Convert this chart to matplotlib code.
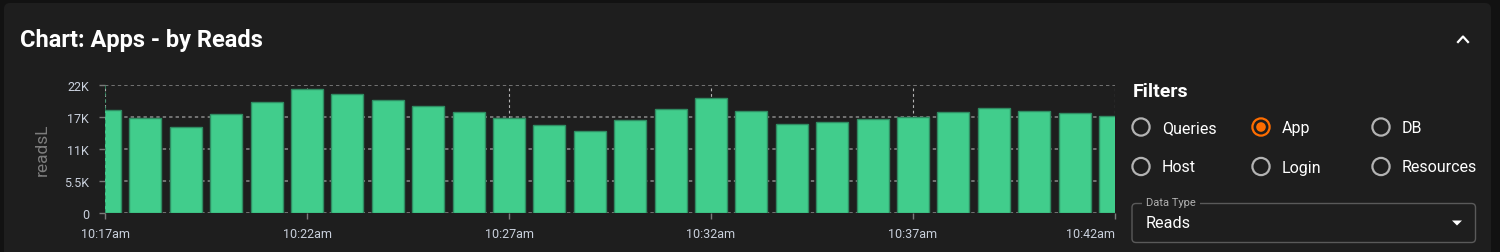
import numpy as np
import matplotlib.pyplot as plt
from matplotlib.patches import FancyBboxPatch, Polygon, Rectangle

plt.rcParams['font.family'] = ['Roboto', 'DejaVu Sans']

# reads per minute, 10:17am .. 10:42am
minutes = np.arange(26)
reads = [17700, 16250, 14700, 16900, 19100, 21200, 20350, 19400, 18350, 17250,
         16250, 15100, 14000, 15900, 17800, 19650, 17450, 15200, 15650, 16100,
         16500, 17250, 17950, 17550, 17150, 16700]
tick_pos = [0, 5, 10, 15, 20, 25]
tick_labels = ['10:17am', '10:22am', '10:27am', '10:32am', '10:37am', '10:42am']
ytick_vals = [0, 5500, 11000, 16500, 22000]
ytick_labels = ['0', '5.5K', '11K', '17K', '22K']
filters = [['Queries', 'App', 'DB'], ['Host', 'Login', 'Resources']]
selected = 'App'

W, H = 1500, 253
fig = plt.figure(figsize=(W / 100, H / 100), dpi=100, facecolor='#121212')


def fx(x):
    return x / W


def fy(y):
    return 1 - y / H


# card background
fig.patches.append(FancyBboxPatch((4, -10), 1487, H - 4 + 10, transform=None,
                                  boxstyle='round,pad=0,rounding_size=6',
                                  facecolor='#1e1e1e', edgecolor='none', zorder=-5))
fig.text(fx(20), fy(40), 'Chart: Apps - by Reads', color='white', fontsize=17,
         fontweight='bold', va='center', ha='left')
# collapse chevron
fig.lines.append(plt.Line2D([1458, 1463, 1468], [H - 43, H - 37.5, H - 43],
                            transform=None, color='white', lw=1.6))

# bar chart
ax = fig.add_axes([fx(105), fy(214), fx(1010), (214 - 85.7) / H])
ax.set_facecolor('none')
ax.set_zorder(2)
ax.bar(minutes, reads, width=0.79, color='#41cd8c', edgecolor='#2f8c62', linewidth=1,
       zorder=2)
ax.set_xlim(0, 25)
ax.set_ylim(0, 22000)
ax.set_xticks(tick_pos, tick_labels)
ax.get_xticklabels()[-1].set_ha('right')
ax.get_xticklabels()[-1].set_x(25)
ax.set_yticks(ytick_vals, ytick_labels)
for s in ax.spines.values():
    s.set_visible(False)
ax.tick_params(colors='#7a7a7a', labelcolor='#c9d0dc', labelsize=9, length=4, width=1)
ax.tick_params(axis='x', pad=6)
ax.tick_params(axis='y', pad=7.5)
for v in ytick_vals:
    ax.axhline(v, color='#8a8a8a', lw=1.1, dashes=(2.2, 2.0), zorder=1)
for t in tick_pos:
    ax.axvline(t, color='#b5b5b5', lw=0.8, dashes=(2.5, 2.5), zorder=1)
ax.axvline(0, color='#2f8c62', lw=1.1, dashes=(2.5, 2.0), zorder=3)
ax.set_ylabel('readsL', color='#7e7e7e', fontsize=12.5, labelpad=10)

# filters panel
fig.text(fx(1133), fy(92), 'Filters', color='white', fontsize=14, fontweight='bold',
         va='center', ha='left')
col_x = [1141, 1261, 1381]
row_y = [128, 167.5]
for r, row in enumerate(filters):
    for c, name in enumerate(row):
        cx, cy = col_x[c], row_y[r]
        on = name == selected
        ring = '#ff6d00' if on else '#b3b3b3'
        fig.patches.append(plt.Circle((cx, H - cy), 8.6, transform=None,
                                      facecolor='none', edgecolor=ring, lw=1.6))
        if on:
            fig.patches.append(plt.Circle((cx, H - cy), 4.8, transform=None,
                                          facecolor=ring, edgecolor='none'))
        fig.text(fx(cx + 21), fy(cy + 0.5), name, color='white', fontsize=11.5,
                 va='center', ha='left')

# data type select
fig.patches.append(FancyBboxPatch((1132, H - 243.5), 343.5, 39, transform=None,
                                  boxstyle='round,pad=0,rounding_size=4',
                                  facecolor='none', edgecolor='#5a5a5a', lw=1))
fig.patches.append(Rectangle((1142, H - 206), 58, 4, transform=None,
                             facecolor='#1e1e1e', edgecolor='none'))
fig.text(fx(1146), fy(203.5), 'Data Type', color='#b0b0b0', fontsize=8,
         va='center', ha='left')
fig.text(fx(1146), fy(224), 'Reads', color='white', fontsize=11.7,
         va='center', ha='left')
fig.patches.append(Polygon([(1452, H - 221.5), (1462, H - 221.5), (1457, H - 226.5)],
                           closed=True, transform=None, facecolor='white',
                           edgecolor='none'))

fig.savefig('out.png', dpi=100, facecolor=fig.get_facecolor())
